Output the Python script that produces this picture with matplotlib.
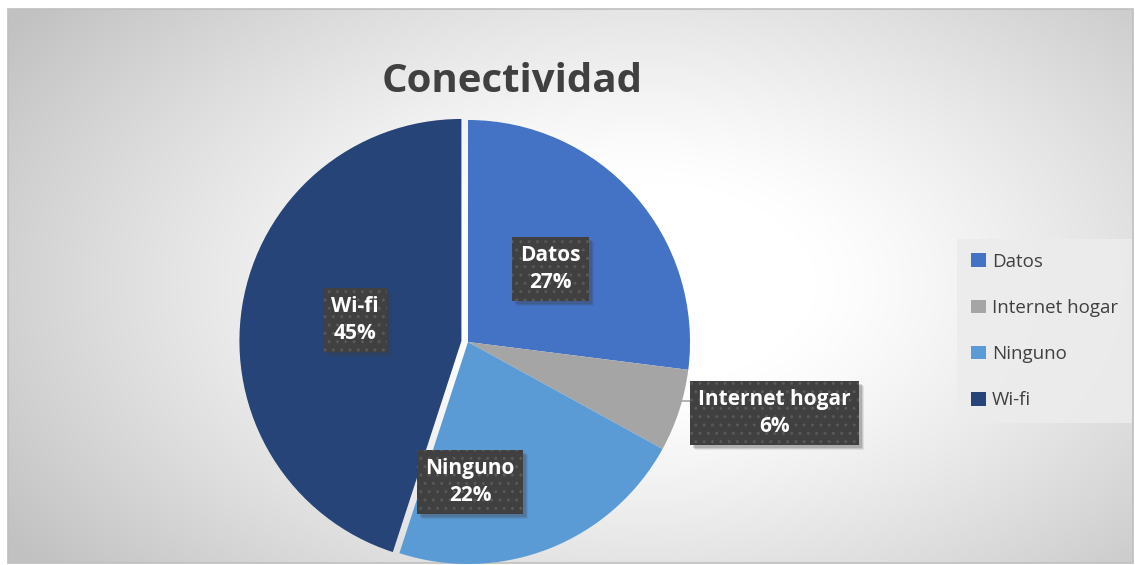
import numpy as np
import matplotlib.pyplot as plt
from matplotlib.patches import Rectangle

categories = ['Datos', 'Internet hogar', 'Ninguno', 'Wi-fi']
values = [27, 6, 22, 45]
colors = ['#4472c4', '#a5a5a5', '#5b9bd5', '#264478']
explode = [0, 0, 0, 0.03]
# label anchor positions (in pie radius units)
label_pos = [(0.37, 0.33), (1.38, -0.32), (0.01, -0.63), (-0.51, 0.10)]

W, H = 1135, 565
cx, cy, R = 468, 342, 222

fig = plt.figure(figsize=(W / 100, H / 100), dpi=100)
fig.patch.set_facecolor('white')
ax = fig.add_axes([0, 0, 1, 1])

# radial gradient background
yy, xx = np.mgrid[0:H, 0:W]
d = np.sqrt(((xx - 640) / 700.0) ** 2 + ((yy - 280) / 420.0) ** 2)
v = 1.0 - 0.24 * np.clip((d - 0.25) / 0.85, 0, 1) ** 1.2
bg = np.dstack([v, v, v])
x0, x1 = -cx / R, (W - cx) / R
y0, y1 = -(H - cy) / R, cy / R
fx = lambda px: (px - cx) / R
fy = lambda py: (cy - py) / R
ax.imshow(bg, extent=[fx(8), fx(1133), fy(563), fy(9)], aspect='auto', zorder=0)
ax.add_patch(Rectangle((fx(8), fy(563)), fx(1133) - fx(8), fy(9) - fy(563),
                       fill=False, edgecolor='#bfbfbf', lw=1.2, zorder=1))

wedges, _ = ax.pie(values, colors=colors, startangle=90, counterclock=False,
                   explode=explode, radius=1.0, wedgeprops=dict(linewidth=0),
                   frame=False)
for w in wedges:
    w.set_zorder(2)

ax.set_xlim(x0, x1)
ax.set_ylim(y0, y1)
ax.set_aspect('auto')
ax.axis('off')

# leader line for Internet hogar
ax.plot([fx(676), fx(690)], [fy(401), fy(401)], color='#a5a5a5', lw=1.2, zorder=3)

labels = []
for cat, val, (lx, ly) in zip(categories, values, label_pos):
    t = ax.text(lx, ly, f'{cat}\n{val}%', ha='center', va='center',
                fontsize=15, fontweight='bold', color='white', family='Open Sans',
                linespacing=1.35, zorder=4,
                bbox=dict(boxstyle='square,pad=0.4', facecolor='#404040',
                          edgecolor='#585858', hatch='..', linewidth=0))
    labels.append(t)

fig.text(512 / W, 1 - 81 / H, 'Conectividad', ha='center', va='center',
         fontsize=29, fontweight='bold', color='#404040', family='Open Sans')

leg = ax.legend(wedges, categories, loc='center left',
                bbox_to_anchor=(948 / W, 1 - 331 / H), bbox_transform=fig.transFigure,
                frameon=True, fancybox=False, handlelength=0.75, handleheight=0.75,
                handletextpad=0.35, labelspacing=1.5, borderpad=0.75,
                prop=dict(family='Open Sans', size=13.5), labelcolor='#404040')
leg.get_frame().set_facecolor('#ececec')
leg.get_frame().set_edgecolor('none')
leg.get_frame().set_alpha(0.9)

# soft shadows under the label boxes
fig.canvas.draw()
inv = ax.transData.inverted()
for t in labels:
    bb = t.get_bbox_patch().get_window_extent()
    for k, a in [(5, 0.10), (4, 0.14), (3, 0.2)]:
        (ax0, ay0), (ax1, ay1) = inv.transform([(bb.x0 + k, bb.y0 - k),
                                                (bb.x1 + k, bb.y1 - k)])
        ax.add_patch(Rectangle((ax0, ay0), ax1 - ax0, ay1 - ay0,
                               facecolor='#404040', edgecolor='none',
                               alpha=a, zorder=3.5))

fig.savefig('out.png', dpi=100)
